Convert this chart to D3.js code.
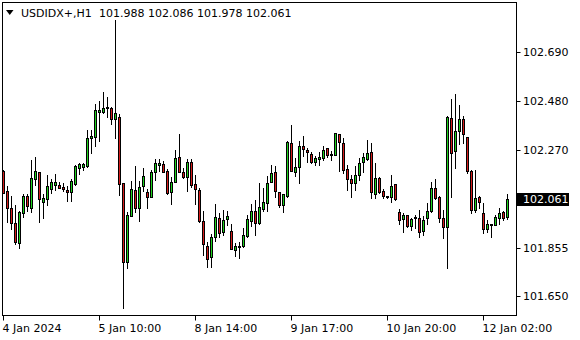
<!DOCTYPE html>
<html>
<head>
<meta charset="utf-8">
<script src="https://cdn.jsdelivr.net/npm/d3@7/dist/d3.min.js"></script>
<style>
  body { margin: 0; background: #fff; }
  svg text { font-family: "DejaVu Sans", sans-serif; font-size: 11px; fill: #000; }
</style>
</head>
<body>
<div id="chart"></div>
<script>
const symbol = 'USDIDX+,H1';

// H1 bars, oldest first
const opens = [
  102.182, 102.096, 102.024, 101.959, 101.877, 102.005, 102.076, 102.026, 102.147, 102.177,
  102.051, 102.064, 102.107, 102.124, 102.121, 102.114, 102.101, 102.091, 102.127, 102.194,
  102.198, 102.202, 102.323, 102.328, 102.433, 102.433, 102.450, 102.450, 102.402, 102.411,
  102.130, 101.796, 101.989, 102.101, 102.026, 102.120, 102.091, 102.073, 102.177, 102.209,
  102.212, 102.183, 102.094, 102.134, 102.240, 102.179, 102.158, 102.220, 102.125, 102.101,
  101.970, 101.864, 101.815, 101.902, 101.982, 101.921, 101.978, 101.927, 101.846, 101.860,
  101.864, 101.905, 101.970, 102.012, 101.959, 102.022, 102.045, 102.134, 102.177, 102.091,
  102.039, 102.076, 102.300, 102.179, 102.200, 102.287, 102.271, 102.254, 102.222, 102.234,
  102.236, 102.281, 102.256, 102.249, 102.340, 102.300, 102.189, 102.147, 102.130, 102.164,
  102.219, 102.234, 102.263, 102.083, 102.151, 102.097, 102.076, 102.070, 102.125, 102.006,
  101.976, 101.993, 101.949, 101.982, 101.983, 101.925, 101.981, 102.012, 102.108, 102.070,
  101.981, 101.942, 102.406, 102.267, 102.352, 102.402, 102.328, 102.182, 102.015, 102.070,
  102.005, 101.934, 101.951, 101.951, 101.981, 102.006, 101.988
];
const highs = [
  102.186, 102.118, 102.076, 102.037, 102.012, 102.083, 102.083, 102.229, 102.240, 102.179,
  102.083, 102.165, 102.149, 102.168, 102.137, 102.132, 102.118, 102.147, 102.208, 102.217,
  102.217, 102.357, 102.357, 102.467, 102.480, 102.518, 102.496, 102.456, 102.825, 102.425,
  102.130, 102.009, 102.140, 102.203, 102.140, 102.194, 102.105, 102.186, 102.232, 102.233,
  102.226, 102.191, 102.158, 102.271, 102.340, 102.194, 102.234, 102.232, 102.165, 102.108,
  102.012, 101.881, 101.913, 102.040, 102.002, 102.016, 102.012, 101.955, 101.877, 101.881,
  101.939, 101.995, 102.042, 102.059, 102.132, 102.111, 102.161, 102.206, 102.203, 102.093,
  102.083, 102.311, 102.378, 102.239, 102.311, 102.331, 102.281, 102.262, 102.246, 102.264,
  102.289, 102.281, 102.269, 102.345, 102.340, 102.321, 102.208, 102.165, 102.203, 102.236,
  102.257, 102.314, 102.303, 102.215, 102.158, 102.105, 102.076, 102.164, 102.125, 102.019,
  102.005, 101.993, 101.983, 101.995, 102.016, 101.990, 102.045, 102.137, 102.148, 102.076,
  102.016, 102.416, 102.487, 102.509, 102.463, 102.416, 102.328, 102.186, 102.186, 102.076,
  102.047, 101.974, 101.955, 101.995, 102.026, 102.012, 102.086
];
const lows = [
  102.088, 101.966, 101.934, 101.870, 101.853, 101.985, 102.013, 102.006, 102.121, 101.966,
  101.983, 102.037, 102.090, 102.101, 102.110, 102.097, 102.056, 102.056, 102.123, 102.169,
  102.186, 102.198, 102.260, 102.290, 102.311, 102.430, 102.413, 102.381, 102.324, 102.080,
  101.600, 101.768, 101.989, 102.009, 101.971, 102.098, 102.026, 102.073, 102.144, 102.183,
  102.179, 102.084, 102.043, 102.134, 102.179, 102.151, 102.098, 102.115, 102.042, 101.966,
  101.825, 101.775, 101.775, 101.884, 101.900, 101.910, 101.952, 101.849, 101.822, 101.813,
  101.860, 101.902, 101.949, 101.910, 101.956, 102.013, 102.013, 102.134, 102.073, 102.030,
  102.009, 102.070, 102.183, 102.162, 102.132, 102.246, 102.222, 102.215, 102.208, 102.208,
  102.229, 102.242, 102.229, 102.249, 102.183, 102.175, 102.101, 102.073, 102.101, 102.144,
  102.177, 102.229, 102.068, 102.068, 102.087, 102.068, 102.068, 102.049, 102.059, 101.956,
  101.924, 101.945, 101.931, 101.938, 101.902, 101.910, 101.955, 102.009, 102.063, 101.964,
  101.896, 101.768, 102.073, 102.194, 102.297, 102.300, 102.175, 102.002, 102.009, 102.026,
  101.919, 101.924, 101.902, 101.951, 101.956, 101.974, 101.978
];
const closes = [
  102.090, 102.023, 101.962, 101.880, 102.006, 102.076, 102.033, 102.151, 102.182, 102.062,
  102.067, 102.117, 102.135, 102.135, 102.111, 102.105, 102.091, 102.140, 102.203, 102.211,
  102.212, 102.321, 102.331, 102.442, 102.442, 102.449, 102.453, 102.402, 102.429, 102.128,
  101.794, 101.995, 102.105, 102.026, 102.113, 102.161, 102.073, 102.178, 102.216, 102.216,
  102.179, 102.088, 102.134, 102.236, 102.179, 102.158, 102.220, 102.122, 102.104, 101.970,
  101.873, 101.806, 101.901, 101.986, 101.917, 101.974, 101.991, 101.849, 101.863, 101.863,
  101.908, 101.978, 102.012, 101.962, 102.028, 102.049, 102.130, 102.172, 102.096, 102.039,
  102.083, 102.304, 102.183, 102.200, 102.289, 102.274, 102.262, 102.222, 102.236, 102.242,
  102.271, 102.250, 102.249, 102.343, 102.304, 102.186, 102.147, 102.132, 102.165, 102.216,
  102.242, 102.259, 102.091, 102.151, 102.094, 102.077, 102.071, 102.120, 102.062, 101.972,
  101.995, 101.949, 101.978, 101.987, 101.921, 101.975, 102.012, 102.108, 102.066, 101.981,
  101.942, 102.411, 102.257, 102.354, 102.405, 102.338, 102.183, 102.015, 102.066, 102.049,
  101.934, 101.956, 101.955, 101.985, 102.005, 101.983, 102.061
];

const priceTicks = [102.690, 102.480, 102.270, 101.855, 101.650];
const timeLabels = ['4 Jan 2024', '5 Jan 10:00', '8 Jan 14:00', '9 Jan 17:00', '10 Jan 20:00', '12 Jan 02:00'];
const timeLabelBars = [0, 24, 48, 72, 96, 120];

const n = opens.length;
const last = n - 1;
const fmt = d3.format('.3f');

const width = 580, height = 340;
const frame = {left: 2.5, top: 2.5, right: 516.5, bottom: 315.5};
const upColor = '#1ed21e', downColor = '#d41c1c';

const svg = d3.select('#chart').append('svg')
  .attr('width', width)
  .attr('height', height);

// 4px per bar, candle centre in the middle of each band
const x = d3.scaleBand().domain(d3.range(n)).range([1.5, 1.5 + 4 * n]);
const cx = i => x(i) + 2;
const y = d3.scaleLinear().domain([101.650, 102.690]).range([296, 51.7]);
const py = v => Math.round(y(v));

svg.append('rect')
  .attr('x', frame.left).attr('y', frame.top)
  .attr('width', frame.right - frame.left)
  .attr('height', frame.bottom - frame.top)
  .attr('fill', 'none')
  .attr('stroke', '#000');

const bars = d3.range(n);

// wicks
svg.append('g').selectAll('line')
  .data(bars)
  .enter().append('line')
  .attr('x1', cx).attr('x2', cx)
  .attr('y1', i => py(highs[i]))
  .attr('y2', i => py(lows[i]) + 1)
  .attr('stroke', '#000');

// bodies
svg.append('g').selectAll('rect')
  .data(bars)
  .enter().append('rect')
  .attr('x', i => cx(i) - 1)
  .attr('y', i => py(Math.max(opens[i], closes[i])) + 0.5)
  .attr('width', 2)
  .attr('height', i => Math.max(py(Math.min(opens[i], closes[i])) - py(Math.max(opens[i], closes[i])), 0))
  .attr('fill', i => closes[i] >= opens[i] ? upColor : downColor)
  .attr('stroke', '#000');

// price axis
const yAxis = svg.append('g');
yAxis.selectAll('line')
  .data(priceTicks.concat([closes[last]]))
  .enter().append('line')
  .attr('x1', frame.right).attr('x2', frame.right + 4)
  .attr('y1', d => py(d) + 0.5).attr('y2', d => py(d) + 0.5)
  .attr('stroke', '#000');
yAxis.selectAll('text')
  .data(priceTicks)
  .enter().append('text')
  .attr('x', 523)
  .attr('y', d => y(d))
  .attr('dy', '0.36em')
  .text(fmt);

// current price tag
const tagY = y(closes[last]);
svg.append('rect')
  .attr('x', 517).attr('y', Math.round(tagY) - 6)
  .attr('width', 52).attr('height', 13)
  .attr('fill', '#000');
svg.append('text')
  .attr('x', 523)
  .attr('y', tagY)
  .attr('dy', '0.36em')
  .style('fill', '#fff')
  .text(fmt(closes[last]));

// time axis
const xAxis = svg.append('g');
xAxis.selectAll('line')
  .data(timeLabelBars)
  .enter().append('line')
  .attr('x1', cx).attr('x2', cx)
  .attr('y1', frame.bottom).attr('y2', frame.bottom + 5)
  .attr('stroke', '#000');
xAxis.selectAll('text')
  .data(timeLabelBars)
  .enter().append('text')
  .attr('x', i => cx(i) - 1)
  .attr('y', 332)
  .text((d, k) => timeLabels[k]);

// header
svg.append('path')
  .attr('d', 'M6,10 L13.5,10 L9.75,15 Z')
  .attr('fill', '#000');
svg.append('text')
  .attr('x', 21).attr('y', 17)
  .text(symbol);
svg.append('text')
  .attr('x', 99).attr('y', 17)
  .text([opens[last], highs[last], lows[last], closes[last]].map(fmt).join(' '));
</script>
</body>
</html>
